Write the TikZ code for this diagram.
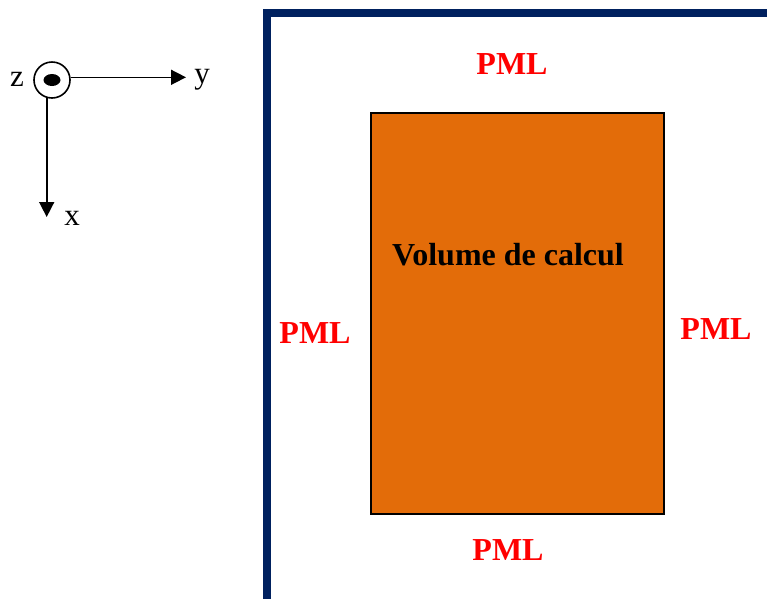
\documentclass[tikz,border=0pt]{standalone}
\usepackage{fontspec}
\setmainfont{Liberation Serif}
\usetikzlibrary{arrows.meta}
\definecolor{framenavy}{HTML}{00215F}
\definecolor{volorange}{HTML}{E36C09}
\definecolor{pmlred}{HTML}{FF0000}
\tikzset{
  pml/.style={text=pmlred, font=\fontsize{32}{38}\selectfont\bfseries, inner sep=0pt},
  axislabel/.style={font=\fontsize{31}{36}\selectfont, inner sep=0pt},
  axisarrow/.style={line width=1.6pt, -{Triangle[length=15pt,width=15pt]}},
}
\begin{document}
\begin{tikzpicture}[x=1pt,y=-1pt]
  \useasboundingbox (0,0) rectangle (767,598);
  % outer boundary of the PML region
  \draw[framenavy, line width=8pt] (267,610) -- (267,13) -- (780,13);
  % computational volume
  \node[draw=black, line width=2pt, fill=volorange, minimum width=293pt, minimum height=401pt, inner sep=0pt, anchor=north west] (vol) at (370,112) {};
  \node[font=\fontsize{32}{38}\selectfont\bfseries, inner sep=0pt] (voltxt) at (508,255) {Volume de calcul};
  % PML labels
  \node[pml] (pmltop) at (512,64) {PML};
  \node[pml] (pmlleft) at (315,333) {PML};
  \node[pml] (pmlright) at (716,329) {PML};
  \node[pml] (pmlbot) at (508,550) {PML};
  % axes
  \node[draw=black, line width=1.6pt, circle, minimum size=36pt, inner sep=0pt] (zc) at (52,80) {};
  \fill[black] (zc.center) ellipse [x radius=8.5pt, y radius=6pt];
  \coordinate (ytip) at (186,77.3);
  \coordinate (xtip) at (46.7,217);
  \draw[axisarrow] (zc.east |- 0,77.3) -- (ytip);
  \draw[axisarrow] (46.7,97.5) -- (xtip);
  \node[axislabel] (zl) at (17,79) {z};
  \node[axislabel] (yl) at (202,80) {y};
  \node[axislabel] (xl) at (72,218) {x};
\end{tikzpicture}
\end{document}
